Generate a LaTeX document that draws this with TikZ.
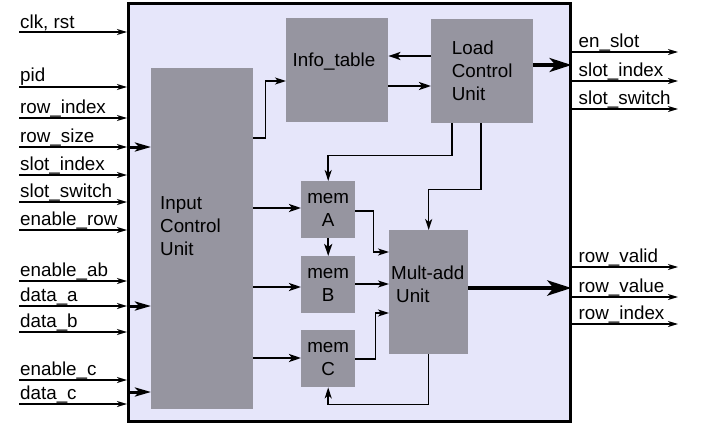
\documentclass[tikz,border=0pt]{standalone}
\usepackage{fontspec}
\setmainfont{Liberation Sans}
\usetikzlibrary{arrows.meta}
\definecolor{chipfill}{RGB}{230,230,250}
\definecolor{blockgray}{RGB}{150,149,160}

\begin{document}
\begin{tikzpicture}[x=1pt,y=-1pt,
    font=\fontsize{18.8}{23}\selectfont,
    block/.style={fill=blockgray, anchor=north west, inner sep=0pt},
    sig/.style={-{Stealth[length=10pt,width=6pt,inset=3pt]}, line width=1.3pt},
    conn/.style={-{Stealth[length=11pt,width=7pt,inset=3pt]}, line width=1.5pt},
    wide/.style={-{Stealth[length=12pt,width=8pt,inset=3pt]}, line width=2.2pt},
    bus/.style={-{Stealth[length=16pt,width=9pt,inset=4pt]}, line width=3pt},
    outbus/.style={-{Stealth[length=22pt,width=14pt,inset=6pt]}, line width=3.5pt},
    bigbus/.style={-{Stealth[length=24pt,width=15pt,inset=6pt]}, line width=4.5pt},
    lbl/.style={anchor=south west, inner sep=1pt}]

  \useasboundingbox (0,0) rectangle (704,423);

  % chip outline
  \node[draw, line width=2.5pt, fill=chipfill, anchor=north west, inner sep=0pt,
        minimum width=442pt, minimum height=418pt] (chip) at (127,2) {};

  % blocks
  \node[block, minimum width=102pt, minimum height=341pt] (icu) at (151,68) {};
  \node[anchor=west, align=left, inner sep=0pt] (icu-txt) at (160,226) {Input\\Control\\Unit};
  \node[block, minimum width=102pt, minimum height=104pt] (info) at (286,18) {};
  \node[inner sep=0pt] (info-txt) at (334,62) {Info\_table};
  \node[block, align=left, minimum width=102pt, minimum height=104pt] (lcu) at (431,19) {Load\\Control\\Unit};
  \node[block, align=center, minimum width=54pt, minimum height=57pt] (memA) at (301,181) {mem\\A};
  \node[block, align=center, minimum width=54pt, minimum height=57pt] (memB) at (301,256) {mem\\B};
  \node[block, align=center, minimum width=54pt, minimum height=57pt] (memC) at (301,330) {mem\\C};
  \node[block, minimum width=79pt, minimum height=124pt] (mult) at (389,230) {};
  \node[anchor=west, align=left, inner sep=0pt] (mult-txt) at (391,284) {Mult-add\\\hspace{5pt}Unit};

  % inputs
  \foreach \txt/\y [count=\i] in {{clk, rst}/32, pid/87, row\_index/118, row\_size/147,
      slot\_index/175, slot\_switch/202, enable\_row/230, enable\_ab/281,
      data\_a/306, data\_b/332, enable\_c/380, data\_c/404} {
    \coordinate (in\i) at (19,\y);
    \node[lbl] (in\i-lbl) at (in\i) {\txt};
    \draw[sig] (in\i) -- (in\i -| chip.west);
  }

  % outputs
  \foreach \txt/\y [count=\i] in {en\_slot/52, slot\_index/81, slot\_switch/109,
      row\_valid/267, row\_value/297, row\_index/324} {
    \coordinate (out\i) at (678,\y);
    \node[lbl] (out\i-lbl) at (chip.east |- out\i) [xshift=6pt] {\txt};
    \draw[sig] (chip.east |- out\i) -- (out\i);
  }

  % buses into the input unit
  \draw[bus] (chip.west |- in4) -- (icu.west |- in4);
  \draw[bus] (chip.west |- in9) -- (icu.west |- in9);
  \draw[bus] (chip.west |- 0,392) -- (icu.west |- 0,392);

  % internal connections
  \draw[conn] (icu.east |- 0,138) -- ++(12,0) |- (info.west |- 0,81);
  \draw[wide] (lcu.west |- 0,56) -- (info.east |- 0,56);
  \draw[wide] (info.east |- 0,86) -- (lcu.west |- 0,86);
  \draw[conn] (lcu.south -| 452,0) -- ++(0,32) -| (memA.north);
  \draw[conn] (lcu.south -| 481,0) -- ++(0,66) -| (mult.north);
  \draw[wide] (icu.east |- 0,208) -- (memA.west |- 0,208);
  \draw[wide] (icu.east |- 0,287) -- (memB.west |- 0,287);
  \draw[wide] (icu.east |- 0,358) -- (memC.west |- 0,358);
  \draw[wide] (memA.south) -- (memB.north);
  \draw[conn] (memA.east |- 0,211) -- ++(18,0) |- (mult.west |- 0,252);
  \draw[conn] (memB.east |- 0,284) -- (mult.west |- 0,284);
  \draw[conn] (memC.east |- 0,359) -- ++(20,0) |- (mult.west |- 0,313);
  \draw[conn] (mult.south) -- ++(0,50) -| (memC.south);

  % output buses
  \draw[outbus] (lcu.east |- 0,65) -- (chip.east |- 0,65);
  \draw[bigbus] (mult.east |- 0,288) -- (chip.east |- 0,288);
\end{tikzpicture}
\end{document}
